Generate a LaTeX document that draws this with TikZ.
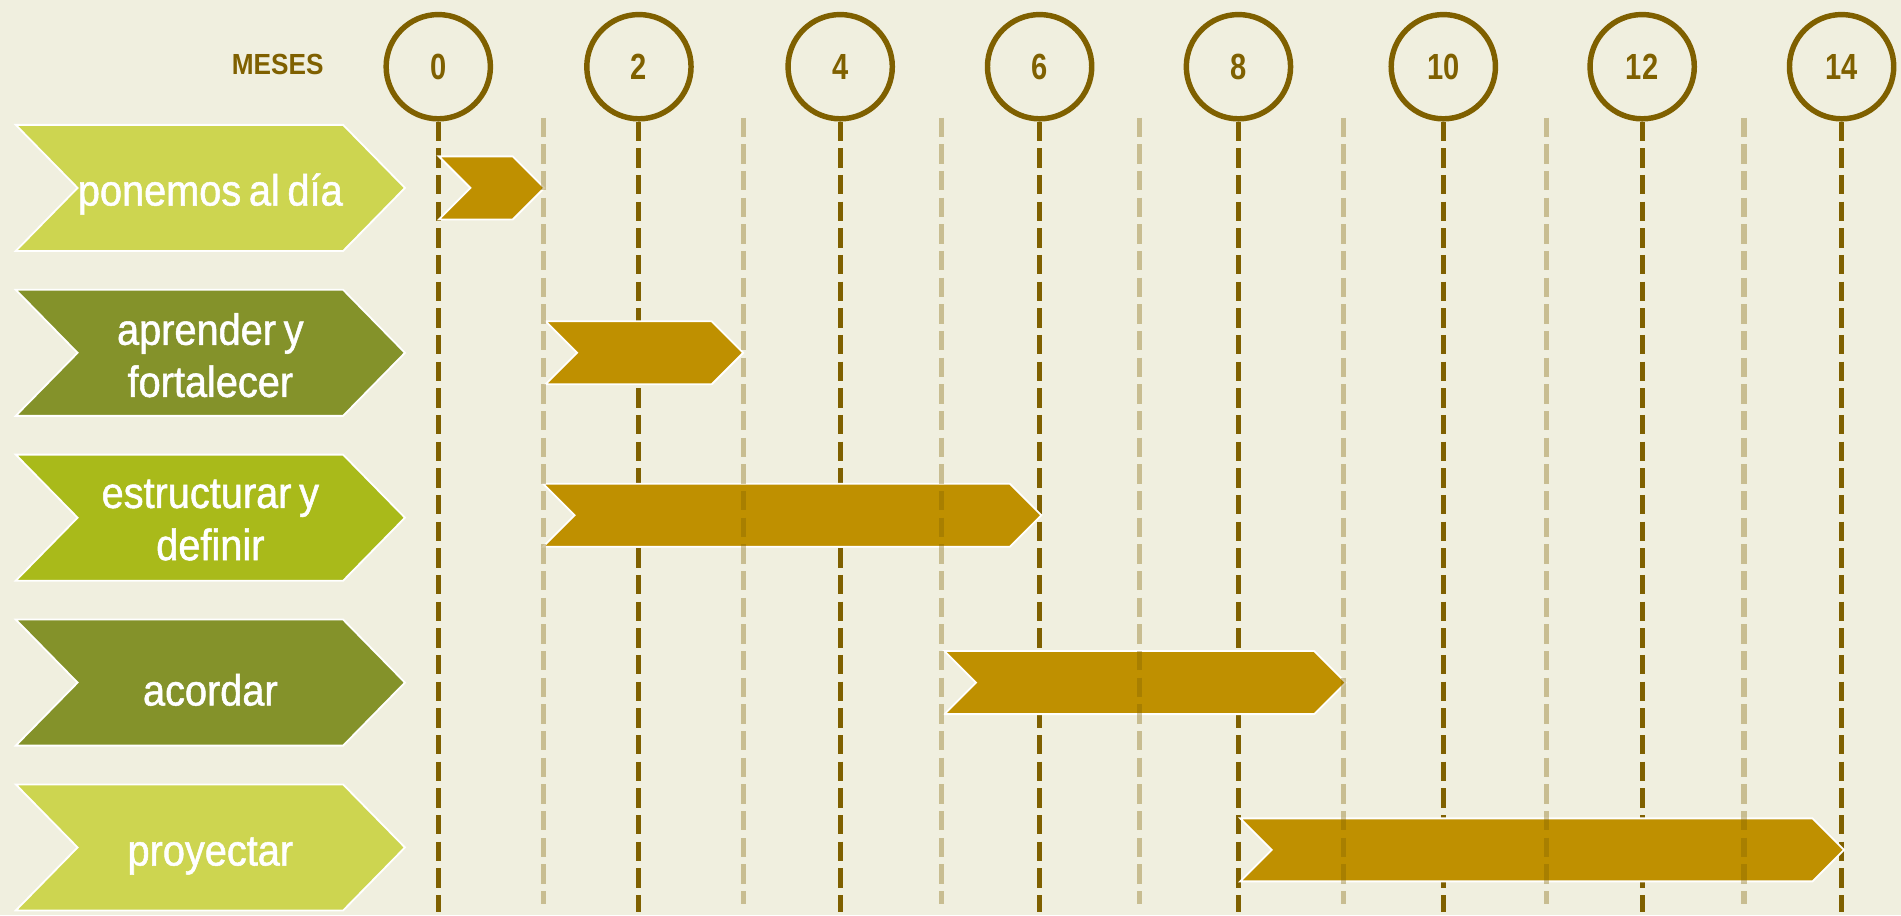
\documentclass[tikz,border=0pt]{standalone}
\usepackage{fontspec}
\setmainfont{Liberation Sans}
\newfontfamily\numfont{Liberation Sans}[FakeStretch=0.8]
\newfontfamily\lblfont{Liberation Sans}[FakeStretch=0.91,FakeBold=1.2,WordSpace=0.7]
\newfontfamily\hdrfont{Liberation Sans}[FakeStretch=0.9]
\definecolor{bgc}{HTML}{F0EFDF}
\definecolor{brn}{HTML}{7F6000}
\definecolor{gold}{HTML}{BF9000}
\definecolor{lime}{HTML}{CDD550}
\definecolor{olive}{HTML}{84922A}
\definecolor{grn}{HTML}{A9BA1A}
\begin{document}
\begin{tikzpicture}[x=1pt,y=-1pt,
  darkline/.style={draw=brn, line width=4.2pt, dash pattern=on 16pt off 6pt},
  lightline/.style={draw=brn, draw opacity=0.35, line width=4.2pt, dash pattern=on 16pt off 6pt},
  month/.style={circle, draw=brn, line width=4.5pt, minimum size=86pt, inner sep=0pt, text=brn, font=\numfont\bfseries\fontsize{30}{30}\selectfont},
  lbltext/.style={text=white, align=center, font=\lblfont\fontsize{36}{43}\selectfont},
  chevbox/.style={draw=white, line width=1.5pt},
  barbox/.style={fill=gold, draw=white, line width=1.5pt}]
\fill[bgc] (0,0) rectangle (1568,755);
\useasboundingbox (0,0) rectangle (1568,755);
% month circles and main dashed lines
\foreach \n/\x in {0/361.5, 2/527, 4/693, 6/857.5, 8/1021.5, 10/1190.5, 12/1354.5, 14/1519} {
  \node[month] (c\n) at (\x,55) {\n};
  \coordinate (e\n) at (\x,752);
  \draw[darkline] (c\n.south) -- (e\n);
}
\node[text=brn, font=\hdrfont\bfseries\fontsize{24}{24}\selectfont] (meses) at (229,53) {MESES};
% phase chevrons
\foreach \yc/\col/\dy/\txt [count=\i] in {155/lime/5/{ponemos al día}, 291/olive/2/{aprender y\\fortalecer}, 427/grn/2/{estructurar y\\definir}, 563/olive/6/{acordar}, 699/lime/7/{proyectar}} {
  \path[chevbox, fill=\col] (13,{\yc-52}) -- (283,{\yc-52}) -- (334,\yc) -- (283,{\yc+52}) -- (13,{\yc+52}) -- (64,\yc) -- cycle;
  \node[lbltext] (t\i) at (173.5,{\yc+\dy}) {\txt};
}
% bars
\foreach \xa/\xb/\yc in {362/449/155, 450/613/291, 448/859/425, 779/1110/563, 1023/1521/701} {
  \path[barbox] (\xa,{\yc-26}) -- ({\xb-26},{\yc-26}) -- (\xb,\yc) -- ({\xb-26},{\yc+26}) -- (\xa,{\yc+26}) -- ({\xa+26},\yc) -- cycle;
}
% half-period dashed lines
\foreach \x in {448.5,613.5,776.5,940,1108,1275.5,1438.5} {
  \draw[lightline] (\x,97) -- (\x,746);
}
\end{tikzpicture}
\end{document}
